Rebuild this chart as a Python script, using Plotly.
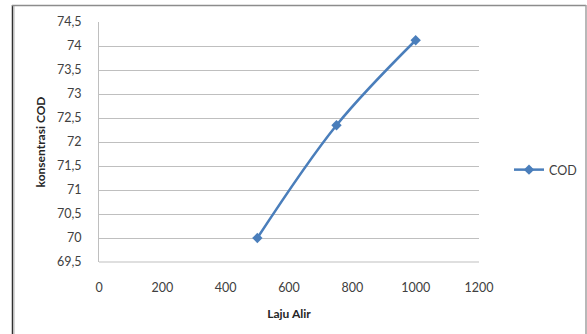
import plotly.graph_objects as go

# Flow rate (Laju Alir) vs. COD concentration
laju_alir = [500, 750, 1000]
cod = [70.0, 72.35, 74.12]

x_ticks = [0, 200, 400, 600, 800, 1000, 1200]
y_ticks = [69.5, 70, 70.5, 71, 71.5, 72, 72.5, 73, 73.5, 74, 74.5]

blue = "#4a7ebb"
grid = "#bfbfbf"
font_family = "Lato, 'Open Sans', sans-serif"

fig = go.Figure()
fig.add_trace(go.Scatter(
    x=laju_alir, y=cod, name="COD",
    mode="lines+markers",
    line=dict(color=blue, width=2.5, shape="spline", smoothing=1.0),
    marker=dict(symbol="diamond", size=8, color=blue),
))

W, H = 587, 334
L, R, T, B = 99, 108, 22, 72
pw, ph = W - L - R, H - T - B


def px(x):
    return (x - L) / pw


def py(y):
    return (H - B - y) / ph


fig.update_layout(
    width=W, height=H,
    margin=dict(l=L, r=R, t=T, b=B, autoexpand=False),
    paper_bgcolor="white", plot_bgcolor="white",
    separators=", ",
    font=dict(family=font_family, size=12.5, color="#404040"),
    showlegend=True,
    legend=dict(x=px(509), y=py(170), xanchor="left", yanchor="middle",
                font=dict(size=12.5, color="#404040"), bgcolor="rgba(0,0,0,0)",
                itemwidth=30),
    xaxis=dict(range=[0, 1200], tickvals=x_ticks, showgrid=False,
               zeroline=False, showline=False, ticks="", ticklabelstandoff=16,
               title=dict(text="<b>Laju Alir</b>", standoff=16,
                          font=dict(size=12, color="#262626"))),
    yaxis=dict(range=[69.5, 74.5], tickvals=y_ticks, showgrid=True,
               gridcolor=grid, gridwidth=1, zeroline=False,
               showline=True, linecolor=grid, linewidth=1,
               ticks="", ticklabelstandoff=14,
               title=dict(text="<b>konsentrasi COD</b>", standoff=8,
                          font=dict(size=12, color="#262626"))),
    shapes=[
        # chart frame: dark left edge, light top and right edges
        dict(type="line", xref="paper", yref="paper",
             x0=px(12.5), x1=px(12.5), y0=py(5), y1=py(340),
             line=dict(color="#303030", width=1.5)),
        dict(type="line", xref="paper", yref="paper",
             x0=px(14), x1=px(14), y0=py(6), y1=py(340),
             line=dict(color="#b0b0b0", width=1)),
        dict(type="line", xref="paper", yref="paper",
             x0=px(12), x1=px(586), y0=py(5.5), y1=py(5.5),
             line=dict(color="#8c8c8c", width=1.5)),
        dict(type="line", xref="paper", yref="paper",
             x0=px(586), x1=px(586), y0=py(5), y1=py(340),
             line=dict(color="#a0a0a0", width=1.5)),
        # bottom gridline at axis minimum
        dict(type="line", xref="paper", yref="paper",
             x0=0, x1=1, y0=0, y1=0, line=dict(color=grid, width=1)),
    ],
)

fig.write_html("out.html")
